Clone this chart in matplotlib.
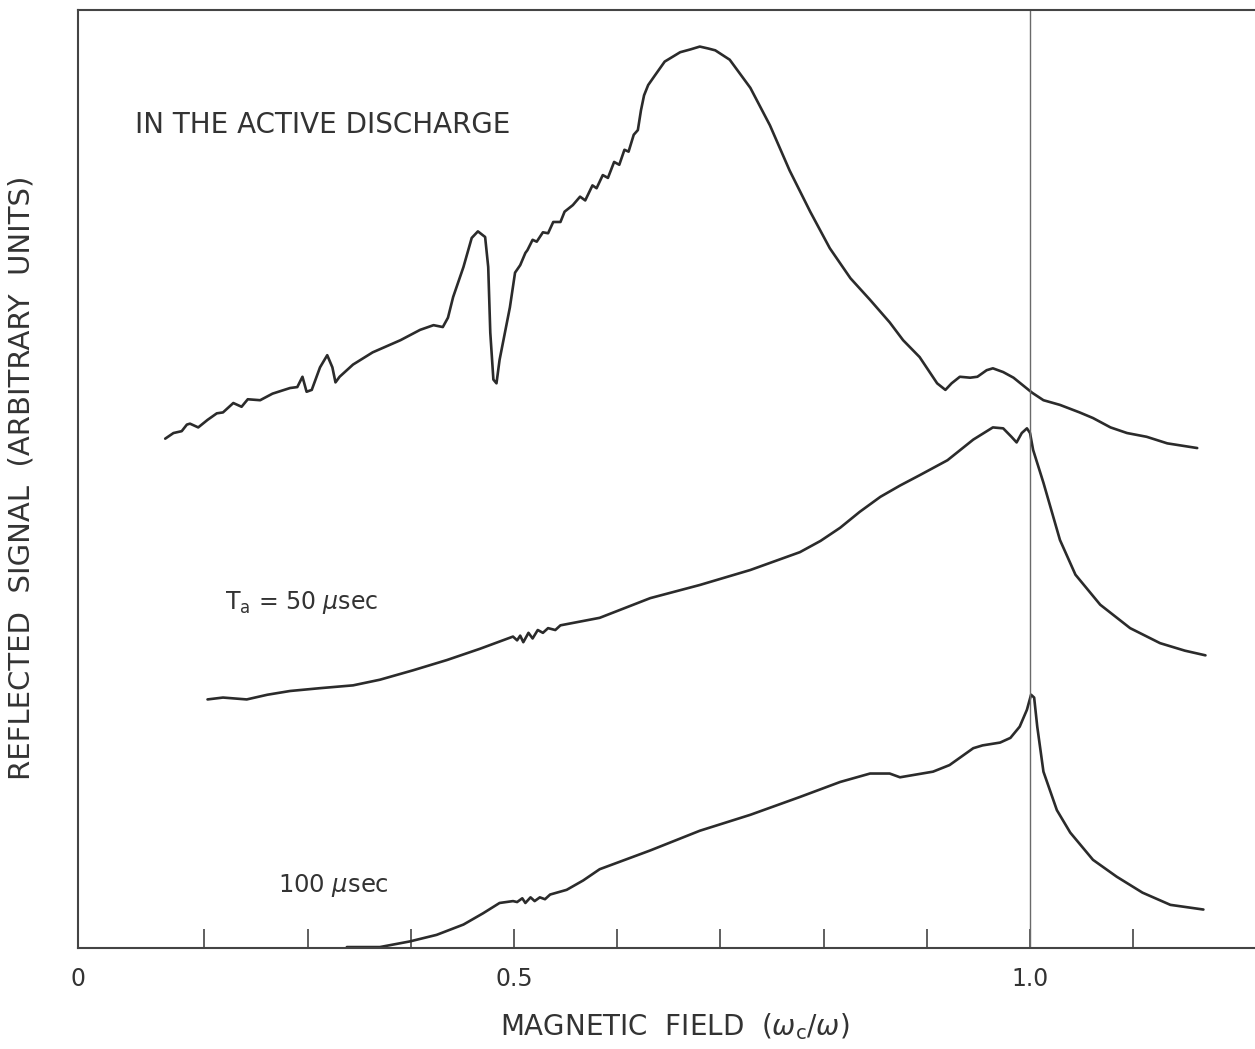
import matplotlib
matplotlib.use('Agg')
import matplotlib.pyplot as plt

# curve: "in the active discharge"
x_active = [0.162, 0.170, 0.178, 0.183, 0.186, 0.194, 0.203, 0.212, 0.218, 0.228,
            0.236, 0.242, 0.254, 0.266, 0.283, 0.290, 0.295, 0.299, 0.304, 0.312,
            0.319, 0.324, 0.327, 0.331, 0.344, 0.363, 0.390, 0.409, 0.422, 0.431,
            0.436, 0.441, 0.451, 0.459, 0.465, 0.472, 0.475, 0.477, 0.480, 0.483,
            0.486, 0.496, 0.501, 0.506, 0.511, 0.513, 0.518, 0.522, 0.528, 0.533,
            0.538, 0.545, 0.549, 0.557, 0.564, 0.569, 0.576, 0.580, 0.586, 0.591,
            0.597, 0.602, 0.607, 0.611, 0.616, 0.620, 0.623, 0.626, 0.630, 0.637,
            0.646, 0.661, 0.671, 0.680, 0.688, 0.695, 0.709, 0.729, 0.748, 0.767,
            0.787, 0.806, 0.826, 0.845, 0.864, 0.877, 0.893, 0.910, 0.918, 0.924,
            0.932, 0.942, 0.949, 0.958, 0.964, 0.974, 0.984, 1.002, 1.013, 1.029,
            1.048, 1.061, 1.078, 1.094, 1.113, 1.133, 1.162]
y_active = [5.43, 5.49, 5.51, 5.58, 5.59, 5.55, 5.63, 5.70, 5.71, 5.81,
            5.77, 5.85, 5.84, 5.91, 5.97, 5.98, 6.09, 5.93, 5.95, 6.19,
            6.32, 6.19, 6.03, 6.09, 6.22, 6.35, 6.48, 6.59, 6.64, 6.62,
            6.72, 6.94, 7.26, 7.57, 7.64, 7.58, 7.26, 6.56, 6.06, 6.02,
            6.27, 6.83, 7.20, 7.28, 7.41, 7.44, 7.55, 7.53, 7.63, 7.62,
            7.74, 7.74, 7.85, 7.92, 8.01, 7.97, 8.13, 8.10, 8.24, 8.21,
            8.38, 8.35, 8.51, 8.49, 8.67, 8.72, 8.93, 9.09, 9.20, 9.31,
            9.45, 9.55, 9.58, 9.61, 9.59, 9.57, 9.47, 9.17, 8.77, 8.29,
            7.85, 7.46, 7.14, 6.91, 6.67, 6.48, 6.30, 6.02, 5.95, 6.02,
            6.09, 6.08, 6.09, 6.16, 6.18, 6.14, 6.08, 5.92, 5.84, 5.79,
            5.71, 5.65, 5.55, 5.49, 5.45, 5.38, 5.33]

# Ta = 50 usec
x_50 = [0.203, 0.218, 0.241, 0.261, 0.283, 0.312, 0.344, 0.370, 0.402, 0.435,
        0.467, 0.499, 0.503, 0.506, 0.509, 0.514, 0.518, 0.523, 0.528, 0.533,
        0.540, 0.545, 0.583, 0.632, 0.680, 0.729, 0.777, 0.797, 0.816, 0.835,
        0.855, 0.874, 0.893, 0.920, 0.945, 0.964, 0.974, 0.982, 0.987, 0.992,
        0.997, 1.000, 1.003, 1.013, 1.029, 1.044, 1.068, 1.097, 1.126, 1.150,
        1.170]
y_50 = [2.65, 2.67, 2.65, 2.70, 2.74, 2.77, 2.80, 2.86, 2.96, 3.07,
        3.19, 3.32, 3.28, 3.33, 3.26, 3.36, 3.30, 3.39, 3.36, 3.41,
        3.39, 3.44, 3.52, 3.73, 3.87, 4.03, 4.22, 4.34, 4.48, 4.65,
        4.81, 4.93, 5.04, 5.20, 5.42, 5.55, 5.54, 5.45, 5.39, 5.49,
        5.54, 5.49, 5.31, 4.96, 4.35, 3.98, 3.66, 3.41, 3.25, 3.17,
        3.12]

# 100 usec
x_100 = [0.338, 0.370, 0.399, 0.425, 0.451, 0.470, 0.486, 0.499, 0.503, 0.508,
         0.511, 0.516, 0.520, 0.525, 0.530, 0.535, 0.551, 0.567, 0.583, 0.632,
         0.680, 0.729, 0.777, 0.816, 0.845, 0.864, 0.874, 0.906, 0.922, 0.945,
         0.954, 0.971, 0.981, 0.990, 0.997, 1.001, 1.004, 1.007, 1.013, 1.026,
         1.039, 1.061, 1.084, 1.109, 1.136, 1.168]
y_100 = [0.01, 0.01, 0.07, 0.14, 0.25, 0.37, 0.48, 0.50, 0.49, 0.53,
         0.48, 0.54, 0.50, 0.54, 0.52, 0.57, 0.62, 0.72, 0.84, 1.04,
         1.25, 1.42, 1.61, 1.77, 1.86, 1.86, 1.82, 1.88, 1.95, 2.13,
         2.16, 2.19, 2.24, 2.36, 2.54, 2.70, 2.67, 2.36, 1.88, 1.47,
         1.23, 0.94, 0.76, 0.59, 0.46, 0.41]

x_left = 0.0775
tick_pos = [x_left, 0.2, 0.3, 0.4, 0.5, 0.6, 0.7, 0.8, 0.9, 1.0, 1.1]
tick_lab = ['0', '', '', '', '0.5', '', '', '', '', '1.0', '']

ink = '#2b2b2b'
txt = '#333333'

fig = plt.figure(figsize=(12.55, 10.49), dpi=100)
ax = fig.add_axes([78 / 1255, 101 / 1049, 1 - 78 / 1255, 938 / 1049])

for xs, ys in [(x_active, y_active), (x_50, y_50), (x_100, y_100)]:
    ax.plot(xs, ys, color=ink, lw=1.9, solid_joinstyle='round', solid_capstyle='round')

ax.axvline(1.0, color='#6a6a6a', lw=1.0)

ax.set_xlim(x_left, 1.218)
ax.set_ylim(0, 10)
ax.set_xticks(tick_pos)
ax.set_xticklabels(tick_lab)
ax.set_yticks([])
ax.tick_params(axis='x', direction='in', length=14, width=1.2, color='#444444',
               pad=14, labelsize=17, labelcolor=txt)
ax.spines['right'].set_visible(False)
for s in ['left', 'top', 'bottom']:
    ax.spines[s].set_color('#444444')
    ax.spines[s].set_linewidth(1.5)

ax.text(0.133, 8.77, 'IN THE ACTIVE DISCHARGE', fontsize=20, color=txt,
        ha='left', va='center')
ax.text(0.220, 3.68, r'T$_{\rm a}$ = 50 $\mu$sec', fontsize=17, color=txt,
        ha='left', va='center')
ax.text(0.271, 0.67, r'100 $\mu$sec', fontsize=17.5, color=txt,
        ha='left', va='center')

fig.text(22 / 1255, 1 - 478 / 1049, 'REFLECTED  SIGNAL  (ARBITRARY  UNITS)',
         rotation=90, ha='center', va='center', fontsize=21, color=txt)
fig.text(675 / 1255, 1 - 1027 / 1049, r'MAGNETIC  FIELD  ($\omega_{\rm c}/\omega$)',
         ha='center', va='center', fontsize=20, color=txt)

fig.savefig('out.png', dpi=100, facecolor='white')
